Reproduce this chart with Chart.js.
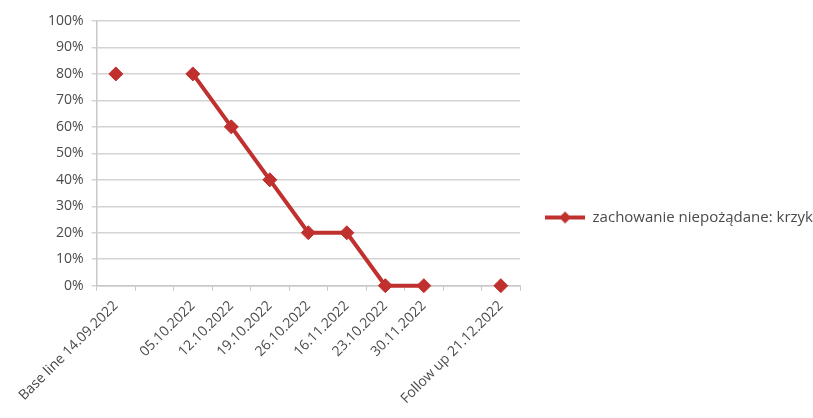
<!DOCTYPE html>
<html>
<head>
<meta charset="utf-8">
<script src="https://cdn.jsdelivr.net/npm/chart.js@4"></script>
<style>
  html, body { margin: 0; padding: 0; background: #ffffff; }
  #wrap { width: 813px; height: 418px; }
</style>
</head>
<body>
<div id="wrap"><canvas id="c" width="813" height="418"></canvas></div>
<script>
const categories = ["Base line 14.09.2022", "", "05.10.2022", "12.10.2022", "19.10.2022", "26.10.2022", "16.11.2022", "23.10.2022", "30.11.2022", "", "Follow up 21.12.2022"];
const values = [80, null, 80, 60, 40, 20, 20, 0, 0, null, 0];
const seriesName = "zachowanie niepożądane: krzyk";
const yTicks = [0, 10, 20, 30, 40, 50, 60, 70, 80, 90, 100];

const RED = '#C0302E';
const TEXT = '#4a4a4a';
const FONT = 'Open Sans';

// legend marker: line with diamond
const mk = document.createElement('canvas');
mk.width = 40; mk.height = 16;
(function () {
  const g = mk.getContext('2d');
  g.strokeStyle = RED; g.lineWidth = 4;
  g.beginPath(); g.moveTo(0, 8); g.lineTo(40, 8); g.stroke();
  g.fillStyle = RED;
  g.beginPath(); g.moveTo(20, 2); g.lineTo(26, 8); g.lineTo(20, 14); g.lineTo(14, 8); g.closePath(); g.fill();
})();

new Chart(document.getElementById('c'), {
  type: 'line',
  data: {
    labels: categories,
    datasets: [{
      label: seriesName,
      data: values,
      borderColor: RED,
      backgroundColor: RED,
      borderWidth: 4,
      pointStyle: 'rectRot',
      pointRadius: 7,
      pointBorderWidth: 1,
      pointBackgroundColor: RED,
      pointBorderColor: RED,
      spanGaps: false,
      tension: 0,
      clip: false
    }]
  },
  options: {
    responsive: false,
    animation: false,
    devicePixelRatio: 1,
    layout: { padding: { left: 40, top: 21, right: -10, bottom: 4 } },
    plugins: {
      tooltip: { enabled: false },
      legend: {
        position: 'right',
        maxWidth: 400,
        labels: {
          usePointStyle: true,
          pointStyle: mk,
          pointStyleWidth: 40,
          color: TEXT,
          font: { family: FONT, size: 15 },
          padding: 25,
          generateLabels: (chart) => {
            const items = Chart.defaults.plugins.legend.labels.generateLabels(chart);
            items.forEach(i => { i.pointStyle = mk; });
            return items;
          }
        }
      }
    },
    scales: {
      x: {
        offset: true,
        grid: {
          offset: true,
          drawOnChartArea: false,
          drawTicks: true,
          tickLength: 5,
          color: '#c8c8c8',
          lineWidth: 1
        },
        border: { color: '#c8c8c8', width: 1.5 },
        ticks: {
          autoSkip: false,
          minRotation: 45,
          maxRotation: 45,
          color: TEXT,
          font: { family: FONT, size: 14 },
          padding: 7
        }
      },
      y: {
        min: 0,
        max: 100,
        afterBuildTicks: (axis) => { axis.ticks = yTicks.map(v => ({ value: v })); },
        grid: {
          color: '#d4d4d4',
          lineWidth: 1.5,
          tickLength: 5
        },
        border: { color: '#c8c8c8', width: 1.5 },
        ticks: {
          color: TEXT,
          font: { family: FONT, size: 14 },
          padding: 8,
          callback: (v) => v + '%'
        }
      }
    }
  }
});
</script>
</body>
</html>
